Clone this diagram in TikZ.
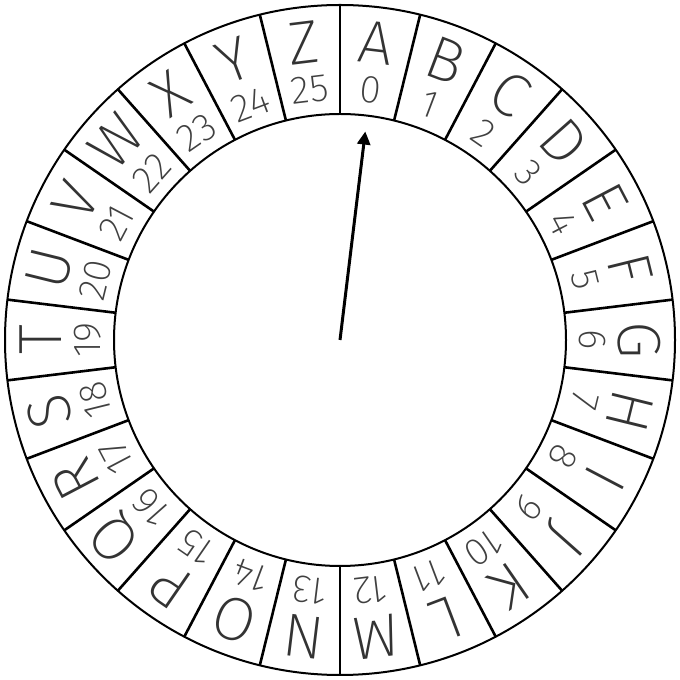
\documentclass[tikz,border=0pt]{standalone}
\usepackage{fontspec}
\newfontfamily\wheelfont{Fira Sans ExtraLight}
\usetikzlibrary{arrows.meta}
\begin{document}
\begin{tikzpicture}[x=1pt,y=1pt,
  ring/.style={line width=2pt},
  divider/.style={line width=2.6pt},
  letter/.style={font=\wheelfont\fontsize{61}{61}\selectfont, text=black!80, inner sep=0pt, anchor=center},
  digit/.style={font=\wheelfont\fontsize{39}{39}\selectfont, text=black!75, inner sep=0pt, anchor=center},
  pointer/.style={line width=3pt, -{Triangle[length=13pt,width=13pt]}}]
\useasboundingbox (0,0) rectangle (680,680);
\coordinate (O) at (340,340);
\draw[ring] (O) circle[radius=335];
\draw[ring] (O) circle[radius=226];
\foreach \k in {0,...,25} {
  \pgfmathsetmacro\d{90-\k*360/26}
  \draw[divider] ([shift={(\d:226)}]O) -- ([shift={(\d:335)}]O);
}
\foreach \l [count=\i from 0] in {A,B,C,D,E,F,G,H,I,J,K,L,M,N,O,P,Q,R,S,T,U,V,W,X,Y,Z} {
  \pgfmathsetmacro\a{90-(\i+0.5)*360/26}
  \node[letter, rotate=\a-90] (L\i) at ([shift={(\a:299)}]O) {\l};
  \node[digit, rotate=\a-90] (N\i) at ([shift={(\a:252)}]O) {\i};
}
\coordinate (T) at ([shift={(83.08:210)}]O);
\draw[pointer] (O) -- (T);
\end{tikzpicture}
\end{document}
